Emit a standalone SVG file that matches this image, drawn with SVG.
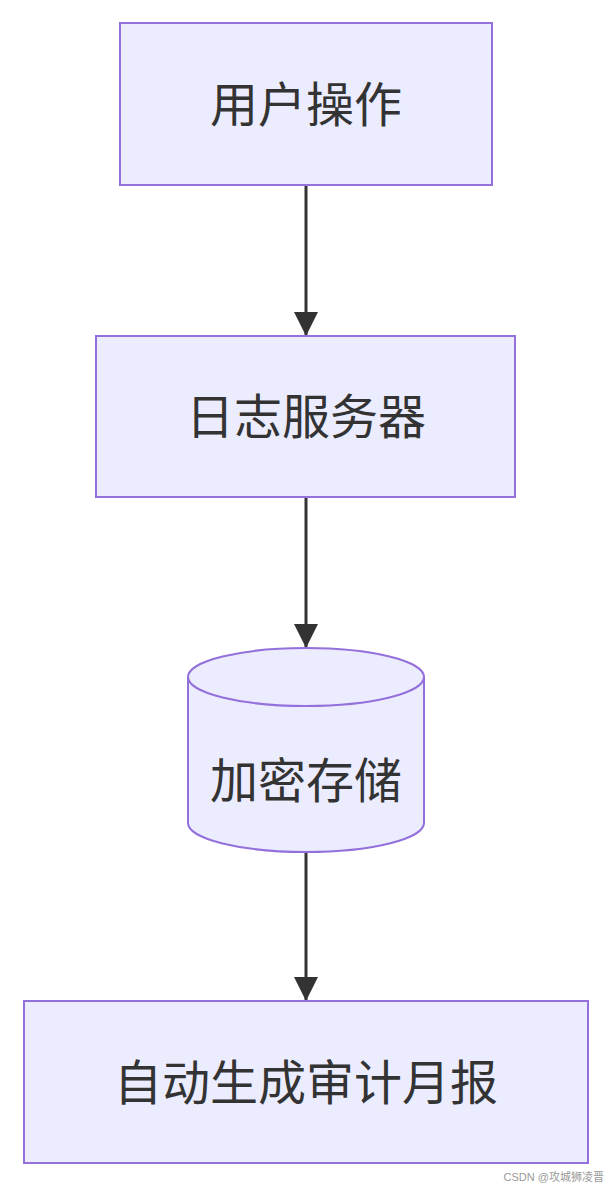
<svg xmlns="http://www.w3.org/2000/svg" width="612" height="1188" viewBox="0 0 612 1188">
<style>
.n{fill:#ECECFF;stroke:#9370DB;stroke-width:2}
.t{font-family:"Liberation Sans","Noto Sans CJK SC",sans-serif;font-size:48px;fill:#333;text-anchor:middle}
.e{stroke:#333;stroke-width:3;fill:none}
</style>
<defs>
<marker id="b" viewBox="0 0 10 10" refX="10" refY="5" markerWidth="24" markerHeight="24" markerUnits="userSpaceOnUse" orient="auto"><path d="M0,0L10,5L0,10z" fill="#333"/></marker></defs>
<rect width="612" height="1188" fill="#fff"/>
<g id="edges">
<line class="e" x1="306" y1="185" x2="306" y2="336" marker-end="url(#b)"/>
<line class="e" x1="306" y1="497" x2="306" y2="648" marker-end="url(#b)"/>
<line class="e" x1="306" y1="852" x2="306" y2="1001" marker-end="url(#b)"/>
</g>
<g id="n1"><rect class="n" x="120" y="23" width="372" height="162"/><text class="t" x="306" y="122">用户操作</text></g>
<g id="n2"><rect class="n" x="96" y="336" width="419" height="161"/><text class="t" x="306" y="434">日志服务器</text></g>
<g id="n3"><path class="n" d="M188,677A118,29 0 0 1 424,677V823A118,29 0 0 1 188,823Z"/><path class="n" d="M188,677A118,29 0 0 0 424,677" fill="none"/><text class="t" x="306" y="798">加密存储</text></g>
<g id="n4"><rect class="n" x="24" y="1001" width="564" height="162"/><text class="t" x="306" y="1100">自动生成审计月报</text></g>
<text x="604" y="1181" font-family="Liberation Sans,Noto Sans CJK SC,sans-serif" font-size="11" fill="#999" text-anchor="end">CSDN @攻城狮凌晋</text>
</svg>
